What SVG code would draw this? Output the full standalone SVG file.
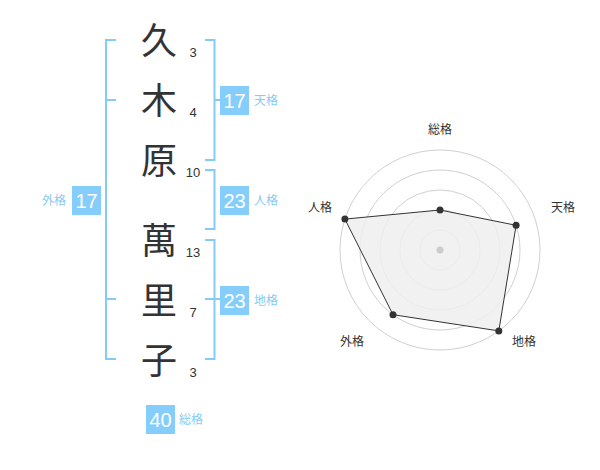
<svg xmlns="http://www.w3.org/2000/svg" width="600" height="470" viewBox="0 0 600 470">
<style>
.ch{font-family:"Noto Sans CJK JP","Noto Sans CJK SC",sans-serif;font-size:36px;fill:#333;text-anchor:middle}
.num{font-family:"Liberation Sans",Arial,sans-serif;font-size:13px;fill:#333;text-anchor:middle}
.br{fill:none;stroke:#85cbf8;stroke-width:2}
.box{fill:#85cdfb}
.bn{font-family:"Liberation Sans",Arial,sans-serif;font-size:20px;fill:#fff;text-anchor:middle}
.bl{font-family:"Noto Sans CJK JP","Noto Sans CJK SC",sans-serif;font-size:12px;fill:#85cbf5}
.rl{font-family:"Noto Sans CJK JP","Noto Sans CJK SC",sans-serif;font-size:12px;fill:#333;text-anchor:middle}
.ring{fill:none;stroke:#d0d0d0;stroke-width:1}
.pt{fill:#333}
</style>
<rect width="600" height="470" fill="#fff"/>
<g id="chars">
<text class="ch" x="159" y="54">久</text>
<text class="ch" x="159" y="114">木</text>
<text class="ch" x="159" y="174">原</text>
<text class="ch" x="159" y="254">萬</text>
<text class="ch" x="159" y="314">里</text>
<text class="ch" x="159" y="374">子</text>
<text class="num" x="193" y="57">3</text>
<text class="num" x="193" y="117">4</text>
<text class="num" x="193" y="177">10</text>
<text class="num" x="193" y="257">13</text>
<text class="num" x="193" y="317">7</text>
<text class="num" x="193" y="377">3</text>
</g>
<g id="connectors">
<path class="br" d="M116,40 H106 V359 H116 M106,100 H116 M106,299 H116"/>
<path class="br" d="M205,40 H214.5 V160 H205 M214.5,100 H220"/>
<path class="br" d="M205,170 H214.5 V229 H205"/>
<path class="br" d="M205,240 H214.5 V359 H205 M205,299 H220"/>
</g>
<g id="tenkaku">
<rect class="box" x="220" y="86" width="29" height="29"/>
<text class="bn" x="234.5" y="108">17</text>
<text class="bl" x="254" y="105">天格</text>
</g>
<g id="jinkaku">
<rect class="box" x="220" y="186" width="29" height="29"/>
<text class="bn" x="234.5" y="208">23</text>
<text class="bl" x="254" y="205">人格</text>
</g>
<g id="chikaku">
<rect class="box" x="220" y="286" width="29" height="29"/>
<text class="bn" x="234.5" y="308">23</text>
<text class="bl" x="254" y="305">地格</text>
</g>
<g id="gaikaku">
<rect class="box" x="72" y="186" width="29" height="29"/>
<text class="bn" x="86.5" y="208">17</text>
<text class="bl" x="42" y="205">外格</text>
</g>
<g id="soukaku">
<rect class="box" x="146" y="405" width="29" height="29"/>
<text class="bn" x="160.5" y="427">40</text>
<text class="bl" x="179" y="424">総格</text>
</g>
<g id="radar">
<circle class="ring" cx="440" cy="250" r="20"/>
<circle class="ring" cx="440" cy="250" r="40"/>
<circle class="ring" cx="440" cy="250" r="60"/>
<circle class="ring" cx="440" cy="250" r="80"/>
<circle class="ring" cx="440" cy="250" r="100"/>
<polygon points="440,210 516.1,225.3 498.8,330.9 393,314.7 344.9,219.1" fill="#eeeeee" fill-opacity="0.85" stroke="#333" stroke-width="1"/>
<circle cx="440" cy="250" r="3.5" fill="#cccccc"/>
<circle class="pt" cx="440" cy="210" r="3.5"/>
<circle class="pt" cx="516.1" cy="225.3" r="3.5"/>
<circle class="pt" cx="498.8" cy="330.9" r="3.5"/>
<circle class="pt" cx="393" cy="314.7" r="3.5"/>
<circle class="pt" cx="344.9" cy="219.1" r="3.5"/>
<text class="rl" x="440" y="134">総格</text>
<text class="rl" x="563" y="212">天格</text>
<text class="rl" x="524" y="346">地格</text>
<text class="rl" x="352" y="346">外格</text>
<text class="rl" x="320" y="212">人格</text>
</g>
</svg>
